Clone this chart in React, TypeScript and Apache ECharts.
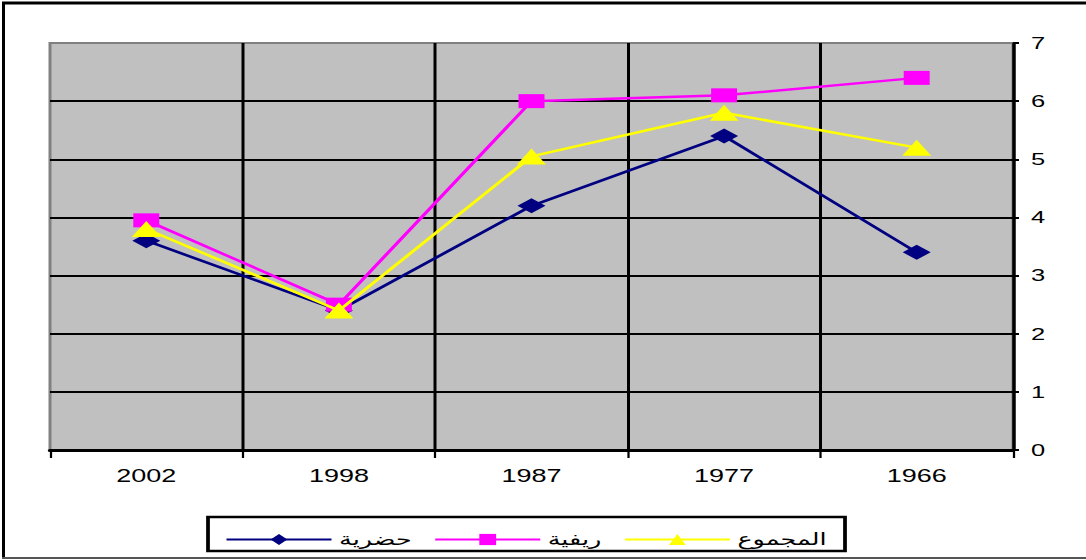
import React, { useEffect, useRef } from "react";
import * as echarts from "echarts";

const categories = ["2002", "1998", "1987", "1977", "1966"];
const urban = [3.6, 2.4, 4.2, 5.4, 3.4];
const rural = [3.95, 2.5, 6.0, 6.1, 6.4];
const total = [3.8, 2.4, 5.05, 5.8, 5.2];
const seriesNames = ["حضرية", "ريفية", "المجموع"];
const yTicks = { min: 0, max: 7, interval: 1 };

// The reference is horizontally stretched; draw at 1/SX width and stretch with CSS.
const SX = 1.5;
const W = 1086;
const H = 560;

export default function App() {
  const ref = useRef<HTMLDivElement>(null);
  useEffect(() => {
    document.body.style.margin = "0";
    const chart = echarts.init(ref.current!, null, { renderer: "svg" });
    const font = "'Liberation Sans', Arial, sans-serif";
    const sx = (v: number) => v / SX;
    chart.setOption({
      animation: false,
      backgroundColor: "#ffffff",
      textStyle: { fontFamily: font },
      grid: {
        left: sx(50),
        right: sx(73),
        top: 43,
        bottom: 110,
        show: true,
        backgroundColor: "#c0c0c0",
        borderColor: "#808080",
        borderWidth: 2,
      },
      graphic: [
        {
          type: "line",
          shape: { x1: sx(2), y1: 3, x2: sx(W), y2: 3 },
          style: { stroke: "#000", lineWidth: 3 },
          silent: true,
          z: 100,
        },
        {
          type: "line",
          shape: { x1: sx(3.5), y1: 2, x2: sx(3.5), y2: 558 },
          style: { stroke: "#000", lineWidth: 2 },
          silent: true,
          z: 100,
        },
        {
          type: "line",
          shape: { x1: sx(2), y1: 558, x2: sx(W), y2: 558 },
          style: { stroke: "#555", lineWidth: 2 },
          silent: true,
          z: 100,
        },
        {
          type: "rect",
          shape: { x: sx(208), y: 517, width: sx(637), height: 34 },
          style: { fill: "#fff", stroke: "#000", lineWidth: 2.5 },
          silent: true,
          z: 0,
        },
      ],
      legend: {
        data: seriesNames,
        left: sx(225) - 5,
        top: 526,
        itemWidth: sx(105),
        itemHeight: 14,
        itemGap: sx(22),
        z: 10,
        textStyle: {
          fontSize: 17,
          color: "#000",
          fontFamily: "'DejaVu Sans', sans-serif",
        },
      },
      xAxis: {
        type: "category",
        data: categories,
        boundaryGap: true,
        axisLine: { show: true, lineStyle: { color: "#000", width: 3 } },
        axisTick: { show: true, length: 8, lineStyle: { color: "#000", width: 1.5 } },
        axisLabel: { color: "#000", fontSize: 18, margin: 17, fontFamily: font },
        splitLine: {
          show: true,
          showMinLine: false,
          lineStyle: { color: "#000", width: 2 },
        },
      },
      yAxis: {
        type: "value",
        position: "right",
        min: yTicks.min,
        max: yTicks.max,
        interval: yTicks.interval,
        axisLine: { show: true, lineStyle: { color: "#000", width: 2 } },
        axisTick: { show: true, length: 4, lineStyle: { color: "#000", width: 2 } },
        axisLabel: { color: "#000", fontSize: 17, margin: 12, fontFamily: font },
        splitLine: {
          show: true,
          showMaxLine: false,
          lineStyle: { color: "#000", width: 2 },
        },
      },
      series: [
        {
          name: seriesNames[0],
          type: "line",
          data: urban,
          symbol: "diamond",
          symbolSize: [sx(28), 15],
          lineStyle: { color: "#000080", width: 2.5 },
          itemStyle: { color: "#000080" },
          z: 3,
        },
        {
          name: seriesNames[1],
          type: "line",
          data: rural,
          symbol: "rect",
          symbolSize: [sx(26), 14],
          lineStyle: { color: "#ff00ff", width: 2.5 },
          itemStyle: { color: "#ff00ff" },
          z: 4,
        },
        {
          name: seriesNames[2],
          type: "line",
          data: total,
          symbol: "triangle",
          symbolSize: [sx(29), 16],
          lineStyle: { color: "#ffff00", width: 2.5 },
          itemStyle: { color: "#ffff00" },
          z: 5,
        },
      ],
    });
    return () => chart.dispose();
  }, []);
  return (
    <div style={{ width: W, height: H, overflow: "hidden", position: "relative" }}>
      <div
        ref={ref}
        style={{
          width: W / SX,
          height: H,
          transform: `scaleX(${SX})`,
          transformOrigin: "0 0",
        }}
      />
    </div>
  );
}
